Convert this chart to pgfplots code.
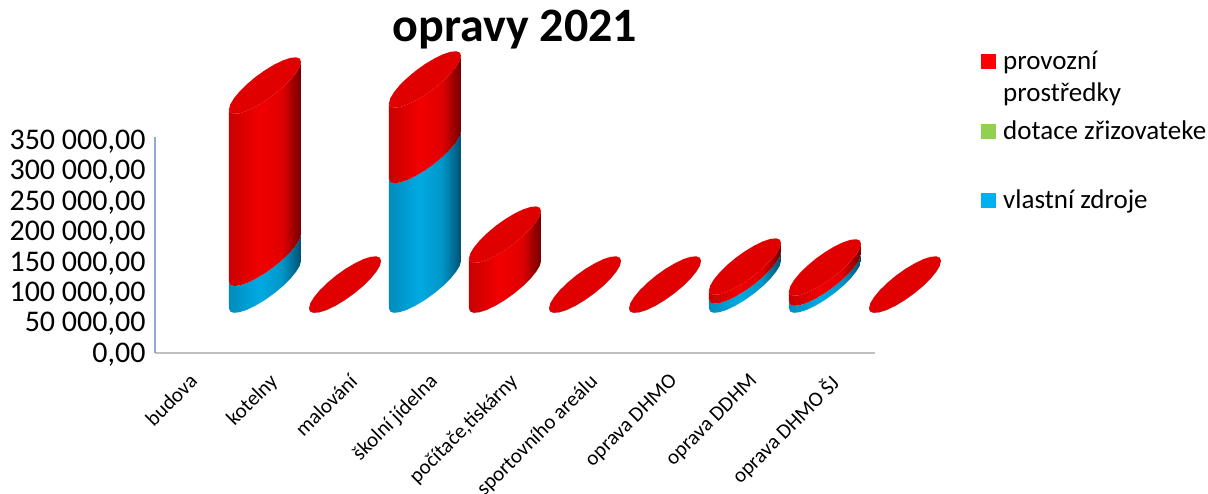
\documentclass[border=0pt]{standalone}
\usepackage{fontspec}
\setmainfont{Carlito}
\usepackage{pgfplots}
\usepackage{pgfplotstable}
\pgfplotsset{compat=1.18}

\definecolor{legred}{RGB}{255,0,0}
\definecolor{leggreen}{RGB}{146,208,80}
\definecolor{legblue}{RGB}{0,176,240}
\definecolor{capred}{RGB}{224,0,0}
\definecolor{redL}{RGB}{200,0,0}
\definecolor{redM}{RGB}{242,0,0}
\definecolor{redN}{RGB}{224,0,0}
\definecolor{redD}{RGB}{112,0,0}
\definecolor{bluL}{RGB}{0,140,190}
\definecolor{bluM}{RGB}{0,170,226}
\definecolor{bluN}{RGB}{0,150,200}
\definecolor{bluD}{RGB}{0,80,112}
\definecolor{yaxisc}{RGB}{142,170,219}
\definecolor{xaxisc}{RGB}{191,191,191}

\pgfdeclarehorizontalshading{cylred}{100bp}{color(0bp)=(redL); color(25bp)=(redL);
  color(46bp)=(redM); color(62bp)=(redN); color(75bp)=(redD); color(100bp)=(redD)}
\pgfdeclarehorizontalshading{cylblue}{100bp}{color(0bp)=(bluL); color(25bp)=(bluL);
  color(46bp)=(bluM); color(62bp)=(bluN); color(75bp)=(bluD); color(100bp)=(bluD)}

% values per category
\pgfplotstableread{
cat vlastni dotace provozni
0   44000   0      283000
1   0       0      0
2   213000  0      124000
3   0       0      82000
4   0       0      0
5   0       0      0
6   15000   0      14500
7   11500   0      16500
8   0       0      0
}\opravy

% slanted ellipse outline: u across, v up
\pgfplotstableread{
u v
1 .839
.966 .951
.866 .999
.707 .978
.5 .892
.259 .743
0 .545
-.259 .309
-.5 .052
-.707 -.208
-.866 -.455
-.966 -.669
-1 -.839
-.966 -.951
-.866 -.999
-.707 -.978
-.5 -.892
-.259 -.743
0 -.545
.259 -.309
.5 -.052
.707 .208
.866 .455
.966 .669
}\ellipseshape

% cylinder side: front arc at the top (h=1), then back along the bottom (h=0)
\pgfplotstableread{
u v h
-1 -.839 1
-.966 -.951 1
-.866 -.999 1
-.707 -.978 1
-.5 -.892 1
-.259 -.743 1
0 -.545 1
.259 -.309 1
.5 -.052 1
.707 .208 1
.866 .455 1
.966 .669 1
1 .839 1
1 .839 0
.966 .669 0
.866 .455 0
.707 .208 0
.5 -.052 0
.259 -.309 0
0 -.545 0
-.259 -.743 0
-.5 -.892 0
-.707 -.978 0
-.866 -.999 0
-.966 -.951 0
-1 -.839 0
}\sideshape

% 3D offset of the drawing: 0.875 category, 112500 in y
\newcommand{\cylside}[4]{%
  \addplot[forget plot,draw=none,shade,shading=#4] table[
    x expr={#1+0.875+0.45*\thisrow{u}},
    y expr={112500+#2+(#3-(#2))*\thisrow{h}+46500*\thisrow{v}}] {\sideshape};
}
\newcommand{\cylcap}[2]{%
  \addplot[forget plot,draw=none,fill=capred] table[
    x expr={#1+0.875+0.45*\thisrow{u}},
    y expr={112500+#2+46500*\thisrow{v}}] {\ellipseshape};
}

\begin{document}
\begin{tikzpicture}
\path[use as bounding box] (0pt,0pt) rectangle (1208pt,494pt);
\begin{axis}[
  at={(155pt,141pt)}, anchor=south west,
  scale only axis, width=720pt, height=216pt,
  clip=false,
  xmin=-0.5, xmax=8.5,
  ymin=0, ymax=355000,
  axis lines=left,
  axis line style={-},
  x axis line style={xaxisc,line width=2pt},
  y axis line style={yaxisc,line width=2pt},
  major tick length=0pt,
  xtick={0,...,8},
  xticklabels={budova,kotelny,malování,školní jídelna,{počítače,tiskárny},sportovního areálu,oprava DHMO,oprava DDHM,oprava DHMO ŠJ},
  xticklabel style={rotate=45,anchor=north east,font=\fontsize{21}{21}\selectfont,xshift=-15pt,yshift=-5.5pt},
  ytick={0,50000,...,350000},
  yticklabel style={font=\fontsize{30}{30}\selectfont,
    /pgf/number format/assume math mode=true,
    /pgf/number format/fixed,/pgf/number format/fixed zerofill,
    /pgf/number format/precision=2,/pgf/number format/use comma,
    /pgf/number format/1000 sep={\ },
    xshift=-6pt,yshift=-1.5pt},
  scaled y ticks=false,
  title={opravy 2021},
  title style={at={(0.5,1)},anchor=center,yshift=101pt,font=\fontsize{48}{48}\selectfont\bfseries},
]
\pgfplotsinvokeforeach{0,...,8}{
  \pgfplotstablegetelem{#1}{vlastni}\of\opravy
  \edef\vl{\pgfplotsretval}
  \pgfplotstablegetelem{#1}{provozni}\of\opravy
  \edef\pr{\pgfplotsretval}
  \edef\tmp{\noexpand\cylside{#1}{0}{\vl}{cylblue}
    \noexpand\cylside{#1}{\vl}{\vl+\pr}{cylred}
    \noexpand\cylcap{#1}{\vl+\pr}}
  \tmp
}
\end{axis}
% legend, placed by hand because its rows are unevenly spaced
\fill[legred] (981pt,425pt) rectangle (996pt,440pt);
\fill[leggreen] (981pt,355pt) rectangle (996pt,370pt);
\fill[legblue] (981pt,286pt) rectangle (996pt,301pt);
\begin{scope}[every node/.style={anchor=base west,inner sep=0pt,font=\fontsize{27}{27}\selectfont}]
\node at (1003pt,424pt) {provozní};
\node at (1003pt,392pt) {prostředky};
\node at (1003pt,354pt) {dotace zřizovateke};
\node at (1003pt,285pt) {vlastní zdroje};
\end{scope}
\end{tikzpicture}
\end{document}
